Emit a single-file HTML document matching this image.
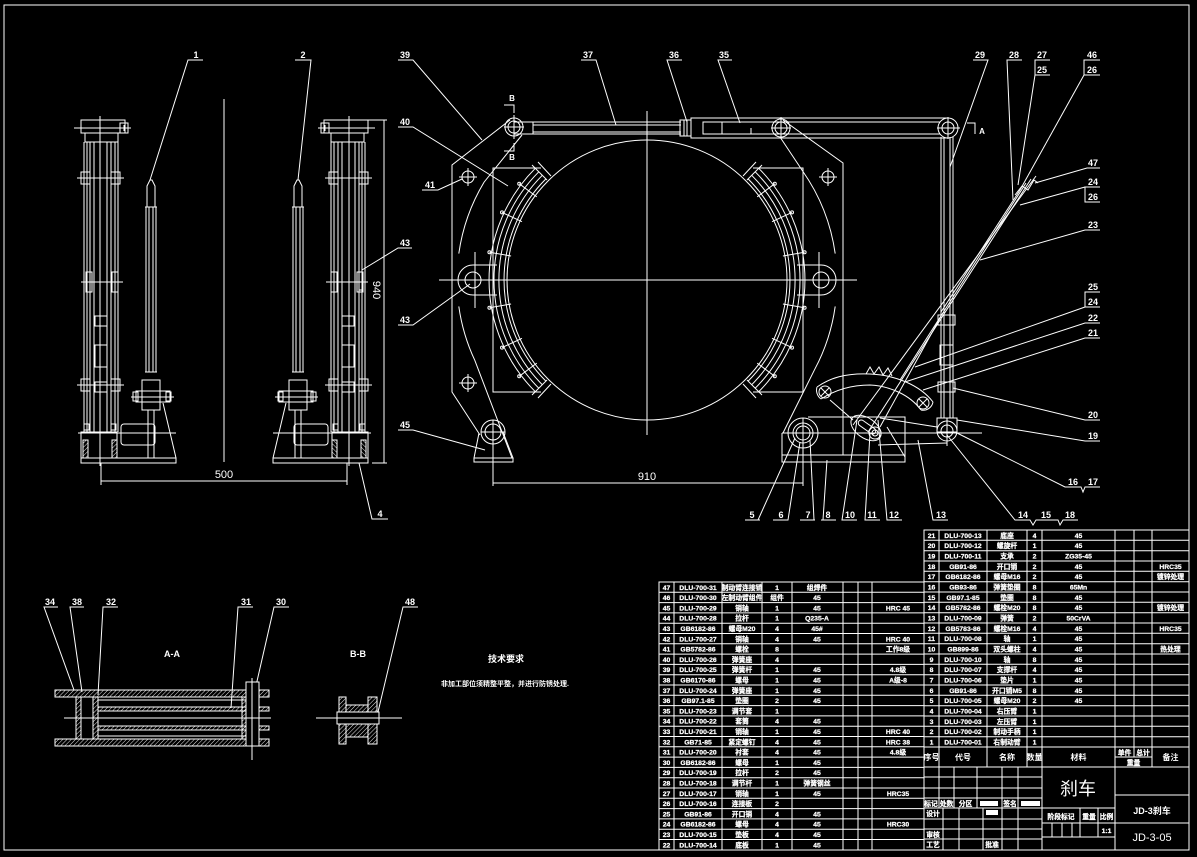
<!DOCTYPE html>
<html><head><meta charset="utf-8"><style>
html,body{margin:0;padding:0;background:#000;}
svg{display:block}
.s{stroke:#fff;stroke-width:1;fill:none}
.l{font:bold 9px "Liberation Sans",sans-serif;fill:#fff;text-anchor:middle}
.t{font:bold 6.8px "Liberation Sans","Noto Sans CJK SC",sans-serif;fill:#fff;stroke:#fff;stroke-width:0.25;text-anchor:middle}
.c{font:bold 7px "Liberation Sans","Noto Sans CJK SC",sans-serif;fill:#fff;text-anchor:middle}
</style></head><body>
<svg width="1197" height="857" viewBox="0 0 1197 857" xmlns="http://www.w3.org/2000/svg">
<defs>
<pattern id="h" width="3" height="3" patternUnits="userSpaceOnUse" patternTransform="rotate(45)"><line x1="0" y1="0" x2="0" y2="3" stroke="#fff" stroke-width="0.9"/></pattern>
<g id="sv" class="s">
 <rect x="81" y="120" width="44" height="13"/>
 <rect x="85" y="133" width="33" height="9"/>
 <line x1="74" y1="128" x2="131" y2="128"/>
 <rect x="120" y="123" width="8" height="10"/>
 <line x1="124" y1="125" x2="124" y2="131"/><line x1="121" y1="128" x2="127" y2="128"/>
 <line x1="100" y1="116" x2="100" y2="466"/>
 <line x1="84" y1="142" x2="84" y2="432"/><line x1="87" y1="142" x2="87" y2="432"/>
 <line x1="90" y1="142" x2="90" y2="432"/><line x1="94" y1="142" x2="94" y2="432"/>
 <line x1="107" y1="142" x2="107" y2="432"/><line x1="111" y1="142" x2="111" y2="432"/>
 <line x1="115" y1="142" x2="115" y2="432"/><line x1="118" y1="142" x2="118" y2="432"/>
 <rect x="81" y="172" width="9" height="12"/><rect x="111" y="172" width="9" height="12"/>
 <line x1="77" y1="178" x2="124" y2="178"/>
 <rect x="86" y="272" width="6" height="20"/><rect x="112" y="272" width="6" height="20"/>
 <line x1="81" y1="282" x2="123" y2="282"/>
 <rect x="81" y="379" width="9" height="12"/><rect x="111" y="379" width="9" height="12"/>
 <line x1="77" y1="385" x2="124" y2="385"/>
 <rect x="95" y="316" width="12" height="10"/><rect x="95" y="345" width="12" height="22"/><rect x="95" y="382" width="12" height="10"/>
 <rect x="81" y="432" width="36" height="26"/>
 <line x1="78" y1="433" x2="176" y2="433"/>
 <rect x="121" y="424" width="34" height="21" rx="3"/>
 <rect x="83" y="440" width="5" height="18" fill="url(#h)"/>
 <rect x="112" y="440" width="5" height="18" fill="url(#h)"/>
 <rect x="84" y="424" width="5" height="6"/><rect x="111" y="424" width="5" height="6"/>
 <rect x="81" y="458" width="95" height="5"/>
 <line x1="146" y1="207" x2="146" y2="372"/><line x1="149" y1="207" x2="149" y2="372"/>
 <line x1="153" y1="207" x2="153" y2="372"/><line x1="156" y1="207" x2="156" y2="372"/>
 <line x1="145" y1="207" x2="157" y2="207"/><line x1="145" y1="372" x2="157" y2="372"/>
 <polyline points="147,207 147,186 150,180 152,180 155,186 155,207"/>
 <rect x="142" y="380" width="18" height="30"/>
 <rect x="136" y="391" width="34" height="11"/>
 <rect x="133" y="392" width="5" height="9"/><rect x="166" y="392" width="5" height="9"/>
 <line x1="131" y1="397" x2="174" y2="397"/>
 <line x1="148" y1="410" x2="148" y2="458"/><line x1="154" y1="410" x2="154" y2="458"/>
 <line x1="163" y1="403" x2="176" y2="458"/>
</g>
</defs>
<rect x="0" y="0" width="1197" height="857" fill="#000"/>
<rect x="4" y="5" width="1185" height="845" class="s" stroke-width="1.6"/>

<!-- side views -->
<use href="#sv"/>
<use href="#sv" transform="translate(449,0) scale(-1,1)"/>
<rect x="359" y="272" width="4" height="18" class="s"/>
<g class="s">
<line x1="224" y1="99" x2="224" y2="462"/>
<line x1="384" y1="120" x2="384" y2="463"/>
<line x1="368" y1="120" x2="387" y2="120"/><line x1="372" y1="463" x2="387" y2="463"/>
<line x1="101" y1="481" x2="347" y2="481"/>
<line x1="101" y1="463" x2="101" y2="485"/><line x1="347" y1="463" x2="347" y2="485"/>
</g>
<text x="224" y="478" class="l" style="font-size:11px;font-weight:normal">500</text>
<text transform="translate(373,290) rotate(90)" class="l" style="font-size:11px;font-weight:normal">940</text>

<!-- main view -->
<g class="s">
<circle cx="647" cy="280" r="140"/>
<line x1="439" y1="280" x2="857" y2="280"/>
<line x1="647" y1="111" x2="647" y2="435"/>
<polyline points="541,168 493,168 493,392 541,392"/>
<polyline points="753,168 803,168 803,392 753,392"/>
<path d="M545.9,178.9 A143,143 0 0 0 545.9,381.1"/>
<path d="M542.3,175.3 A148,148 0 0 0 542.3,384.7"/>
<path d="M538.8,171.8 A153,153 0 0 0 538.8,388.2"/>
<path d="M535.3,168.3 A158,158 0 0 0 535.3,391.7"/>
<path d="M748.1,178.9 A143,143 0 0 1 748.1,381.1"/>
<path d="M751.7,175.3 A148,148 0 0 1 751.7,384.7"/>
<path d="M755.2,171.8 A153,153 0 0 1 755.2,388.2"/>
<path d="M758.7,168.3 A158,158 0 0 1 758.7,391.7"/>
<line x1="547" y1="180" x2="532" y2="165"/><line x1="551" y1="176" x2="538" y2="162"/>
<line x1="547" y1="380" x2="532" y2="395"/><line x1="551" y1="384" x2="538" y2="398"/>
<line x1="747" y1="180" x2="762" y2="165"/><line x1="743" y1="176" x2="756" y2="162"/>
<line x1="747" y1="380" x2="762" y2="395"/><line x1="743" y1="384" x2="756" y2="398"/>
<line x1="536.8" y1="196.9" x2="519.2" y2="183.7"/><line x1="522" y1="221.7" x2="502" y2="212.4"/>
<line x1="511.1" y1="256" x2="489.4" y2="252.2"/><line x1="511.1" y1="304" x2="489.4" y2="307.8"/>
<line x1="522" y1="338.3" x2="502" y2="347.6"/><line x1="536.8" y1="363.1" x2="519.2" y2="376.3"/>
<line x1="757.2" y1="196.9" x2="774.8" y2="183.7"/><line x1="772" y1="221.7" x2="792" y2="212.4"/>
<line x1="782.9" y1="256" x2="804.6" y2="252.2"/><line x1="782.9" y1="304" x2="804.6" y2="307.8"/>
<line x1="772" y1="338.3" x2="792" y2="347.6"/><line x1="757.2" y1="363.1" x2="774.8" y2="376.3"/>
<circle cx="519.2" cy="183.7" r="1.5"/><circle cx="502" cy="212.4" r="1.5"/><circle cx="489.4" cy="252.2" r="1.5"/>
<circle cx="489.4" cy="307.8" r="1.5"/><circle cx="502" cy="347.6" r="1.5"/><circle cx="519.2" cy="376.3" r="1.5"/>
<circle cx="774.8" cy="183.7" r="1.5"/><circle cx="792" cy="212.4" r="1.5"/><circle cx="804.6" cy="252.2" r="1.5"/>
<circle cx="804.6" cy="307.8" r="1.5"/><circle cx="792" cy="347.6" r="1.5"/><circle cx="774.8" cy="376.3" r="1.5"/>
<!-- arms -->
<polyline points="510,120 452,165 452,392 480,435"/>
<path d="M458.8,253.6 A190,190 0 0 1 484.1,182.1 L522,135"/>
<path d="M458.8,306.4 A190,190 0 0 0 474.8,360.3 L512,458"/>
<polyline points="783,120 843,163 843,418"/>
<path d="M835.2,253.6 A190,190 0 0 0 802.6,171 L780,137"/>
<path d="M835.2,306.4 A190,190 0 0 1 814.8,369.2 L783,433"/>
<!-- holes -->
<circle cx="468" cy="177" r="6"/><line x1="459" y1="177" x2="477" y2="177"/><line x1="468" y1="168" x2="468" y2="186"/>
<circle cx="468" cy="383" r="6"/><line x1="459" y1="383" x2="477" y2="383"/><line x1="468" y1="374" x2="468" y2="392"/>
<circle cx="828" cy="177" r="6"/><line x1="819" y1="177" x2="837" y2="177"/><line x1="828" y1="168" x2="828" y2="186"/>
<!-- lugs -->
<path d="M497,265 L473,265 A15,15 0 0 0 473,295 L497,295"/>
<circle cx="473" cy="280" r="8"/><line x1="475" y1="252" x2="475" y2="308"/>
<path d="M797,265 L821,265 A15,15 0 0 1 821,295 L797,295"/>
<circle cx="821" cy="280" r="8"/><line x1="819" y1="252" x2="819" y2="308"/>
<!-- bottom left pivot -->
<circle cx="493" cy="432" r="12"/><circle cx="493" cy="432" r="8"/>
<line x1="481" y1="432" x2="505" y2="432"/><line x1="493" y1="420" x2="493" y2="486"/>
<polyline points="479,433 474,458 513,458 503,432"/>
<rect x="474" y="458" width="39" height="4"/>
<!-- top rod -->
<line x1="514" y1="122" x2="681" y2="122"/><line x1="514" y1="134" x2="681" y2="134"/>
<line x1="533" y1="122" x2="533" y2="134"/>
<line x1="533" y1="125" x2="681" y2="125"/><line x1="533" y1="132" x2="681" y2="132"/>
<rect x="680" y="120" width="11" height="16"/><rect x="684" y="120" width="3" height="16"/>
<rect x="691" y="118" width="257" height="20"/>
<rect x="703" y="122" width="19" height="12"/>
<line x1="722" y1="122" x2="940" y2="122"/><line x1="722" y1="134" x2="940" y2="134"/>
<line x1="751" y1="128" x2="751" y2="134"/>
<circle cx="514" cy="127" r="9"/><circle cx="514" cy="127" r="6"/>
<line x1="504" y1="127" x2="524" y2="127"/><line x1="514" y1="115" x2="514" y2="139"/>
<circle cx="781" cy="128" r="9"/><circle cx="781" cy="128" r="6"/>
<line x1="771" y1="128" x2="791" y2="128"/><line x1="781" y1="117" x2="781" y2="139"/>
<circle cx="948" cy="128" r="10"/><circle cx="948" cy="128" r="6"/>
<line x1="937" y1="128" x2="960" y2="128"/><line x1="948" y1="117" x2="948" y2="139"/>
<!-- markers -->
<polyline points="504,105 514,105 514,113"/><polyline points="514,143 514,151 504,151"/>
<polyline points="967,123 975,123 975,134"/>
<!-- vertical rod -->
<line x1="941" y1="137" x2="941" y2="418"/><line x1="953" y1="137" x2="953" y2="418"/>
<line x1="944" y1="137" x2="944" y2="418"/><line x1="950" y1="137" x2="950" y2="418"/>
<rect x="938" y="315" width="17" height="10"/><rect x="940" y="345" width="13" height="20"/><rect x="938" y="382" width="17" height="10"/>
<!-- lever base -->
<path d="M782,433 L782,462 L905,462 L905,417 L808,417"/>
<line x1="782" y1="455" x2="905" y2="455"/><line x1="843" y1="417" x2="843" y2="455"/>
<line x1="782" y1="433" x2="982" y2="433"/>
<circle cx="803" cy="433" r="15"/><circle cx="803" cy="433" r="10"/><circle cx="803" cy="433" r="7"/>
<line x1="803" y1="418" x2="803" y2="486"/>
<ellipse cx="866" cy="428" rx="17" ry="10" transform="rotate(35 866 428)"/>
<rect x="857" y="424" width="20" height="6" rx="3" transform="rotate(35 867 427)"/>
<circle cx="875" cy="433" r="6"/><circle cx="875" cy="433" r="3"/>
<circle cx="947" cy="431" r="10"/><circle cx="947" cy="431" r="6"/>
<rect x="937" y="418" width="20" height="14"/>
<line x1="947" y1="418" x2="947" y2="446"/>
<line x1="878" y1="445" x2="947" y2="443"/><line x1="880" y1="418" x2="937" y2="427"/>
<line x1="887" y1="427" x2="905" y2="457"/><line x1="830" y1="400" x2="853" y2="420"/>
<!-- sector -->
<path d="M817,387 C830,378 845,373 870,374 C895,375 920,385 933,402"/>
<path d="M821,399 C835,390 852,385 870,385 C890,386 910,395 921,410"/>
<path d="M817,387 A11,11 0 0 0 821,399"/><path d="M933,402 A10,10 0 0 1 921,410"/>
<polyline points="866,374 870,367 874,374 879,367 883,375 888,368 892,376"/>
<circle cx="825" cy="392" r="6"/><line x1="821" y1="388" x2="829" y2="396"/><line x1="829" y1="388" x2="821" y2="396"/>
<circle cx="923" cy="403" r="6"/><line x1="919" y1="399" x2="927" y2="407"/><line x1="927" y1="399" x2="919" y2="407"/>
<!-- diagonal spring rods -->
<line x1="1036" y1="176" x2="853" y2="425"/>
<line x1="1031" y1="179" x2="868" y2="432"/>
<line x1="1026" y1="183" x2="900" y2="380"/>
<line x1="1020" y1="190" x2="941" y2="312"/>
<line x1="940" y1="318" x2="880" y2="427"/>
<polyline points="1015,195 1022,186 1028,190 1034,180 1038,183"/>
<!-- dim 910 -->
<line x1="493" y1="483" x2="803" y2="483"/>
</g>
<text x="647" y="480" class="l" style="font-size:11px;font-weight:normal">910</text>
<text x="512" y="101" class="l" style="font-size:8px">B</text>
<text x="512" y="160" class="l" style="font-size:8px">B</text>
<text x="982" y="134" class="l" style="font-size:8px">A</text>

<!-- leaders -->
<g class="s" stroke-width="0.8">
<polyline points="203,60 188,60 150,180"/>
<polyline points="295,60 311,60 298,180"/>
<polyline points="388,519 372,519 359,463"/>
<polyline points="412,248 398,248 362,270"/>
<polyline points="398,60 413,60 482,140"/>
<polyline points="398,127 413,127 508,186"/>
<polyline points="422,190 438,190 462,179"/>
<polyline points="398,325 413,325 470,284"/>
<polyline points="398,430 413,430 485,450"/>
<polyline points="581,60 596,60 616,125"/>
<polyline points="682,60 667,60 687,122"/>
<polyline points="732,60 718,60 740,123"/>
<polyline points="973,60 988,60 950,167"/>
<polyline points="1022,60 1007,60 1013,200"/>
<polyline points="1050,60 1035,60 1035,75 1050,75"/><line x1="1035" y1="75" x2="1018" y2="185"/>
<polyline points="1100,60 1084,60 1084,75 1100,75"/><line x1="1084" y1="75" x2="1020" y2="190"/>
<polyline points="1100,168 1087,168 1035,183"/>
<polyline points="1100,187 1085,187 1085,202 1100,202"/><line x1="1085" y1="187" x2="1020" y2="205"/>
<polyline points="1100,230 1085,230 980,260"/>
<polyline points="1100,292 1085,292 1085,307 1100,307"/><line x1="1085" y1="307" x2="915" y2="367"/>
<polyline points="1100,323 1085,323 905,382"/>
<polyline points="1100,338 1085,338 923,390"/>
<polyline points="1100,420 1085,420 953,388"/>
<polyline points="1100,441 1085,441 957,420"/>
<polyline points="1100,487 1085,487 1083,492 1081,487 1065,487 957,433"/>
<polyline points="1078,520 1063,520 1060,525 1058,520 1036,520 1033,525 1030,520 1015,520 947,435"/>
<polyline points="745,520 760,520"/><line x1="758" y1="520" x2="795" y2="438"/>
<polyline points="773,520 788,520 800,442"/>
<polyline points="800,520 815,520"/><line x1="814" y1="520" x2="810" y2="440"/>
<polyline points="836,520 821,520"/><line x1="823" y1="520" x2="827" y2="460"/>
<polyline points="857,520 842,520 857,420"/>
<polyline points="880,520 865,520 870,433"/>
<polyline points="902,520 887,520 878,420"/>
<polyline points="948,520 933,520 918,440"/>
<polyline points="58,607 44,607 74,690"/>
<polyline points="84,607 70,607 82,692"/>
<polyline points="118,607 103,607 98,695"/>
<polyline points="253,607 238,607 231,708"/>
<polyline points="289,607 274,607 255,690"/>
<polyline points="418,607 403,607 378,712"/>
</g>
<g class="l">
<text x="196" y="58">1</text><text x="303" y="58">2</text><text x="380" y="517">4</text><text x="405" y="246">43</text>
<text x="405" y="58">39</text><text x="405" y="125">40</text><text x="430" y="188">41</text>
<text x="405" y="323">43</text><text x="405" y="428">45</text>
<text x="588" y="58">37</text><text x="674" y="58">36</text><text x="724" y="58">35</text>
<text x="980" y="58">29</text><text x="1014" y="58">28</text><text x="1042" y="58">27</text><text x="1042" y="73">25</text>
<text x="1092" y="58">46</text><text x="1092" y="73">26</text>
<text x="1093" y="166">47</text><text x="1093" y="185">24</text><text x="1093" y="200">26</text>
<text x="1093" y="228">23</text><text x="1093" y="290">25</text><text x="1093" y="305">24</text>
<text x="1093" y="321">22</text><text x="1093" y="336">21</text><text x="1093" y="418">20</text>
<text x="1093" y="439">19</text><text x="1073" y="485">16</text><text x="1093" y="485">17</text>
<text x="1023" y="518">14</text><text x="1046" y="518">15</text><text x="1070" y="518">18</text>
<text x="752" y="518">5</text><text x="781" y="518">6</text><text x="808" y="518">7</text><text x="828" y="518">8</text>
<text x="850" y="518">10</text><text x="872" y="518">11</text><text x="894" y="518">12</text><text x="941" y="518">13</text>
<text x="50" y="605">34</text><text x="77" y="605">38</text><text x="111" y="605">32</text>
<text x="246" y="605">31</text><text x="281" y="605">30</text><text x="410" y="605">48</text>
<text x="172" y="657">A-A</text><text x="358" y="657">B-B</text>
</g>

<!-- section A-A -->
<g class="s">
<rect x="55" y="690" width="214" height="7" fill="url(#h)"/>
<rect x="55" y="739" width="214" height="7" fill="url(#h)"/>
<rect x="98" y="707" width="148" height="4" fill="url(#h)"/>
<rect x="98" y="726" width="148" height="4" fill="url(#h)"/>
<rect x="259" y="707" width="10" height="4" fill="url(#h)"/>
<rect x="259" y="726" width="10" height="4" fill="url(#h)"/>
<line x1="98" y1="700" x2="246" y2="700"/><line x1="98" y1="736" x2="246" y2="736"/>
<rect x="76" y="697" width="5" height="42" fill="url(#h)"/>
<rect x="93" y="697" width="5" height="42" fill="url(#h)"/>
<rect x="81" y="697" width="12" height="42"/>
<rect x="242" y="697" width="4" height="42" fill="url(#h)"/>
<rect x="246" y="682" width="13" height="64" fill="#000"/>
<line x1="252" y1="678" x2="252" y2="760"/>
<line x1="64" y1="718" x2="271" y2="718"/>
<!-- B-B -->
<rect x="339" y="697" width="7" height="47" fill="url(#h)"/>
<rect x="368" y="697" width="9" height="47" fill="url(#h)"/>
<rect x="346" y="705" width="22" height="32" fill="url(#h)"/>
<rect x="337" y="712" width="42" height="12" fill="#000"/>
<line x1="316" y1="718" x2="402" y2="718"/>
</g>
<text x="506" y="662" class="c" style="font-size:9px">技术要求</text>
<text x="505" y="686" class="c" style="font-size:7px">非加工部位须精整平整，并进行防锈处理.</text>

<!-- left parts table -->
<g class="s" stroke-width="1.2">
<rect x="659" y="582" width="265" height="268"/>
<line x1="674" y1="582" x2="674" y2="850"/><line x1="722" y1="582" x2="722" y2="850"/>
<line x1="762" y1="582" x2="762" y2="850"/><line x1="792" y1="582" x2="792" y2="850"/>
<line x1="843" y1="582" x2="843" y2="850"/><line x1="858" y1="582" x2="858" y2="850"/>
<line x1="872" y1="582" x2="872" y2="850"/>
<path d="M659,592.3H924M659,602.6H924M659,612.9H924M659,623.2H924M659,633.5H924M659,643.8H924M659,654.1H924M659,664.4H924M659,674.7H924M659,685H924M659,695.3H924M659,705.6H924M659,715.9H924M659,726.2H924M659,736.5H924M659,746.8H924M659,757.1H924M659,767.4H924M659,777.7H924M659,788H924M659,798.3H924M659,808.6H924M659,818.9H924M659,829.2H924M659,839.5H924"/>
</g>
<g class="t">
<text x="666.5" y="589.8">47</text><text x="698" y="589.8">DLU-700-31</text><text x="742" y="589.8">制动臂连接销</text><text x="777" y="589.8">1</text><text x="817" y="589.8">组焊件</text>
<text x="666.5" y="600.1">46</text><text x="698" y="600.1">DLU-700-30</text><text x="742" y="600.1">左制动臂组件</text><text x="777" y="600.1">组件</text><text x="817" y="600.1">45</text>
<text x="666.5" y="610.4">45</text><text x="698" y="610.4">DLU-700-29</text><text x="742" y="610.4">销轴</text><text x="777" y="610.4">1</text><text x="817" y="610.4">45</text><text x="898" y="610.4">HRC 45</text>
<text x="666.5" y="620.7">44</text><text x="698" y="620.7">DLU-700-28</text><text x="742" y="620.7">拉杆</text><text x="777" y="620.7">1</text><text x="817" y="620.7">Q235-A</text>
<text x="666.5" y="631">43</text><text x="698" y="631">GB6182-86</text><text x="742" y="631">螺母M20</text><text x="777" y="631">4</text><text x="817" y="631">45#</text>
<text x="666.5" y="641.3">42</text><text x="698" y="641.3">DLU-700-27</text><text x="742" y="641.3">销轴</text><text x="777" y="641.3">4</text><text x="817" y="641.3">45</text><text x="898" y="641.3">HRC 40</text>
<text x="666.5" y="651.6">41</text><text x="698" y="651.6">GB5782-86</text><text x="742" y="651.6">螺栓</text><text x="777" y="651.6">8</text><text x="898" y="651.6">工作8级</text>
<text x="666.5" y="661.9">40</text><text x="698" y="661.9">DLU-700-26</text><text x="742" y="661.9">弹簧座</text><text x="777" y="661.9">4</text>
<text x="666.5" y="672.2">39</text><text x="698" y="672.2">DLU-700-25</text><text x="742" y="672.2">弹簧杆</text><text x="777" y="672.2">1</text><text x="817" y="672.2">45</text><text x="898" y="672.2">4.8级</text>
<text x="666.5" y="682.5">38</text><text x="698" y="682.5">GB6170-86</text><text x="742" y="682.5">螺母</text><text x="777" y="682.5">1</text><text x="817" y="682.5">45</text><text x="898" y="682.5">A级-8</text>
<text x="666.5" y="692.8">37</text><text x="698" y="692.8">DLU-700-24</text><text x="742" y="692.8">弹簧座</text><text x="777" y="692.8">1</text><text x="817" y="692.8">45</text>
<text x="666.5" y="703.1">36</text><text x="698" y="703.1">GB97.1-85</text><text x="742" y="703.1">垫圈</text><text x="777" y="703.1">2</text><text x="817" y="703.1">45</text>
<text x="666.5" y="713.4">35</text><text x="698" y="713.4">DLU-700-23</text><text x="742" y="713.4">调节套</text><text x="777" y="713.4">1</text>
<text x="666.5" y="723.7">34</text><text x="698" y="723.7">DLU-700-22</text><text x="742" y="723.7">套筒</text><text x="777" y="723.7">4</text><text x="817" y="723.7">45</text>
<text x="666.5" y="734">33</text><text x="698" y="734">DLU-700-21</text><text x="742" y="734">销轴</text><text x="777" y="734">1</text><text x="817" y="734">45</text><text x="898" y="734">HRC 40</text>
<text x="666.5" y="744.3">32</text><text x="698" y="744.3">GB71-85</text><text x="742" y="744.3">紧定螺钉</text><text x="777" y="744.3">4</text><text x="817" y="744.3">45</text><text x="898" y="744.3">HRC 38</text>
<text x="666.5" y="754.6">31</text><text x="698" y="754.6">DLU-700-20</text><text x="742" y="754.6">衬套</text><text x="777" y="754.6">4</text><text x="817" y="754.6">45</text><text x="898" y="754.6">4.8级</text>
<text x="666.5" y="764.9">30</text><text x="698" y="764.9">GB6182-86</text><text x="742" y="764.9">螺母</text><text x="777" y="764.9">1</text><text x="817" y="764.9">45</text>
<text x="666.5" y="775.2">29</text><text x="698" y="775.2">DLU-700-19</text><text x="742" y="775.2">拉杆</text><text x="777" y="775.2">2</text><text x="817" y="775.2">45</text>
<text x="666.5" y="785.5">28</text><text x="698" y="785.5">DLU-700-18</text><text x="742" y="785.5">调节杆</text><text x="777" y="785.5">1</text><text x="817" y="785.5">弹簧钢丝</text>
<text x="666.5" y="795.8">27</text><text x="698" y="795.8">DLU-700-17</text><text x="742" y="795.8">销轴</text><text x="777" y="795.8">1</text><text x="817" y="795.8">45</text><text x="898" y="795.8">HRC35</text>
<text x="666.5" y="806.1">26</text><text x="698" y="806.1">DLU-700-16</text><text x="742" y="806.1">连接板</text><text x="777" y="806.1">2</text>
<text x="666.5" y="816.4">25</text><text x="698" y="816.4">GB91-86</text><text x="742" y="816.4">开口销</text><text x="777" y="816.4">4</text><text x="817" y="816.4">45</text>
<text x="666.5" y="826.7">24</text><text x="698" y="826.7">GB6182-86</text><text x="742" y="826.7">螺母</text><text x="777" y="826.7">4</text><text x="817" y="826.7">45</text><text x="898" y="826.7">HRC30</text>
<text x="666.5" y="837">23</text><text x="698" y="837">DLU-700-15</text><text x="742" y="837">垫板</text><text x="777" y="837">4</text><text x="817" y="837">45</text>
<text x="666.5" y="847.3">22</text><text x="698" y="847.3">DLU-700-14</text><text x="742" y="847.3">底板</text><text x="777" y="847.3">1</text><text x="817" y="847.3">45</text>
</g>

<!-- right parts table -->
<g class="s" stroke-width="1.2">
<rect x="924" y="530" width="265" height="237"/>
<line x1="939" y1="530" x2="939" y2="767"/><line x1="987" y1="530" x2="987" y2="767"/>
<line x1="1027" y1="530" x2="1027" y2="767"/><line x1="1042" y1="530" x2="1042" y2="850"/>
<line x1="1115" y1="530" x2="1115" y2="850"/><line x1="1134" y1="530" x2="1134" y2="757"/>
<line x1="1152" y1="530" x2="1152" y2="767"/>
<path d="M924,540.3H1189M924,550.7H1189M924,561H1189M924,571.3H1189M924,581.7H1189M924,592H1189M924,602.3H1189M924,612.7H1189M924,623H1189M924,633.3H1189M924,643.7H1189M924,654H1189M924,664.3H1189M924,674.7H1189M924,685H1189M924,695.3H1189M924,705.7H1189M924,716H1189M924,726.3H1189M924,736.7H1189M924,747H1189M1115,757H1152"/>
</g>
<g class="t">
<text x="931.5" y="537.8">21</text><text x="963" y="537.8">DLU-700-13</text><text x="1007" y="537.8">底座</text><text x="1034.5" y="537.8">4</text><text x="1078.5" y="537.8">45</text>
<text x="931.5" y="548.1">20</text><text x="963" y="548.1">DLU-700-12</text><text x="1007" y="548.1">螺旋杆</text><text x="1034.5" y="548.1">1</text><text x="1078.5" y="548.1">45</text>
<text x="931.5" y="558.5">19</text><text x="963" y="558.5">DLU-700-11</text><text x="1007" y="558.5">支承</text><text x="1034.5" y="558.5">2</text><text x="1078.5" y="558.5">ZG35-45</text>
<text x="931.5" y="568.8">18</text><text x="963" y="568.8">GB91-86</text><text x="1007" y="568.8">开口销</text><text x="1034.5" y="568.8">2</text><text x="1078.5" y="568.8">45</text><text x="1170.5" y="568.8">HRC35</text>
<text x="931.5" y="579.1">17</text><text x="963" y="579.1">GB6182-86</text><text x="1007" y="579.1">螺母M16</text><text x="1034.5" y="579.1">2</text><text x="1078.5" y="579.1">45</text><text x="1170.5" y="579.1">镀锌处理</text>
<text x="931.5" y="589.4">16</text><text x="963" y="589.4">GB93-86</text><text x="1007" y="589.4">弹簧垫圈</text><text x="1034.5" y="589.4">8</text><text x="1078.5" y="589.4">65Mn</text>
<text x="931.5" y="599.8">15</text><text x="963" y="599.8">GB97.1-85</text><text x="1007" y="599.8">垫圈</text><text x="1034.5" y="599.8">8</text><text x="1078.5" y="599.8">45</text>
<text x="931.5" y="610.1">14</text><text x="963" y="610.1">GB5782-86</text><text x="1007" y="610.1">螺栓M20</text><text x="1034.5" y="610.1">8</text><text x="1078.5" y="610.1">45</text><text x="1170.5" y="610.1">镀锌处理</text>
<text x="931.5" y="620.4">13</text><text x="963" y="620.4">DLU-700-09</text><text x="1007" y="620.4">弹簧</text><text x="1034.5" y="620.4">2</text><text x="1078.5" y="620.4">50CrVA</text>
<text x="931.5" y="630.8">12</text><text x="963" y="630.8">GB5783-86</text><text x="1007" y="630.8">螺栓M16</text><text x="1034.5" y="630.8">4</text><text x="1078.5" y="630.8">45</text><text x="1170.5" y="630.8">HRC35</text>
<text x="931.5" y="641.1">11</text><text x="963" y="641.1">DLU-700-08</text><text x="1007" y="641.1">轴</text><text x="1034.5" y="641.1">1</text><text x="1078.5" y="641.1">45</text>
<text x="931.5" y="651.4">10</text><text x="963" y="651.4">GB899-86</text><text x="1007" y="651.4">双头螺柱</text><text x="1034.5" y="651.4">4</text><text x="1078.5" y="651.4">45</text><text x="1170.5" y="651.4">热处理</text>
<text x="931.5" y="661.8">9</text><text x="963" y="661.8">DLU-700-10</text><text x="1007" y="661.8">轴</text><text x="1034.5" y="661.8">8</text><text x="1078.5" y="661.8">45</text>
<text x="931.5" y="672.1">8</text><text x="963" y="672.1">DLU-700-07</text><text x="1007" y="672.1">支撑杆</text><text x="1034.5" y="672.1">4</text><text x="1078.5" y="672.1">45</text>
<text x="931.5" y="682.4">7</text><text x="963" y="682.4">DLU-700-06</text><text x="1007" y="682.4">垫片</text><text x="1034.5" y="682.4">1</text><text x="1078.5" y="682.4">45</text>
<text x="931.5" y="692.8">6</text><text x="963" y="692.8">GB91-86</text><text x="1007" y="692.8">开口销M5</text><text x="1034.5" y="692.8">8</text><text x="1078.5" y="692.8">45</text>
<text x="931.5" y="703.1">5</text><text x="963" y="703.1">DLU-700-05</text><text x="1007" y="703.1">螺母M20</text><text x="1034.5" y="703.1">2</text><text x="1078.5" y="703.1">45</text>
<text x="931.5" y="713.4">4</text><text x="963" y="713.4">DLU-700-04</text><text x="1007" y="713.4">右压臂</text><text x="1034.5" y="713.4">1</text>
<text x="931.5" y="723.8">3</text><text x="963" y="723.8">DLU-700-03</text><text x="1007" y="723.8">左压臂</text><text x="1034.5" y="723.8">1</text>
<text x="931.5" y="734.1">2</text><text x="963" y="734.1">DLU-700-02</text><text x="1007" y="734.1">制动手柄</text><text x="1034.5" y="734.1">1</text>
<text x="931.5" y="744.4">1</text><text x="963" y="744.4">DLU-700-01</text><text x="1007" y="744.4">右制动臂</text><text x="1034.5" y="744.4">1</text>
</g>
<g class="c" style="font-size:8px">
<text x="931.5" y="760">序号</text><text x="963" y="760">代号</text><text x="1007" y="760">名称</text><text x="1034.5" y="760">数量</text>
<text x="1078.5" y="760">材料</text><text x="1170.5" y="760">备注</text>
</g>
<g class="t"><text x="1124.5" y="755">单件</text><text x="1143" y="755">总计</text><text x="1133.5" y="765">重量</text></g>

<!-- title block -->
<g class="s" stroke-width="1.2">
<rect x="924" y="767" width="265" height="83"/>
<path d="M924,777H1042M924,788H1042M924,798H1042M924,808H1115M924,819H1042M924,829H1042M924,839H1042M1042,823H1189M1042,837H1115M1115,795H1189"/>
<path d="M939,767V808M954,767V808M977,767V808M1002,767V850M1018,767V850M943,808V850M959,808V850M983,808V850M1080,808V837M1098,808V837M1052,823V837M1062,823V837M1072,823V837"/>
</g>
<g class="t">
<text x="931" y="806">标记</text><text x="946.5" y="806">处数</text><text x="965.5" y="806">分区</text>
<text x="1010" y="806">签名</text>
<text x="933" y="816">设计</text><text x="933" y="837">审核</text><text x="933" y="847">工艺</text><text x="992" y="847">批准</text>
<text x="1061" y="819">阶段标记</text><text x="1089" y="819">重量</text><text x="1106.5" y="819">比例</text>
<text x="1106.5" y="833">1:1</text>
</g>
<rect x="980" y="801" width="18" height="5" fill="#fff"/>
<rect x="1021" y="801" width="19" height="5" fill="#fff"/>
<rect x="986" y="810" width="12" height="5" fill="#fff"/>
<text x="1078" y="795" class="c" style="font-size:18px;font-weight:normal">刹车</text>
<text x="1152" y="814" class="c" style="font-size:9px">JD-3刹车</text>
<text x="1152" y="841" class="c" style="font-size:11px;font-weight:normal">JD-3-05</text>
</svg>
</body></html>
